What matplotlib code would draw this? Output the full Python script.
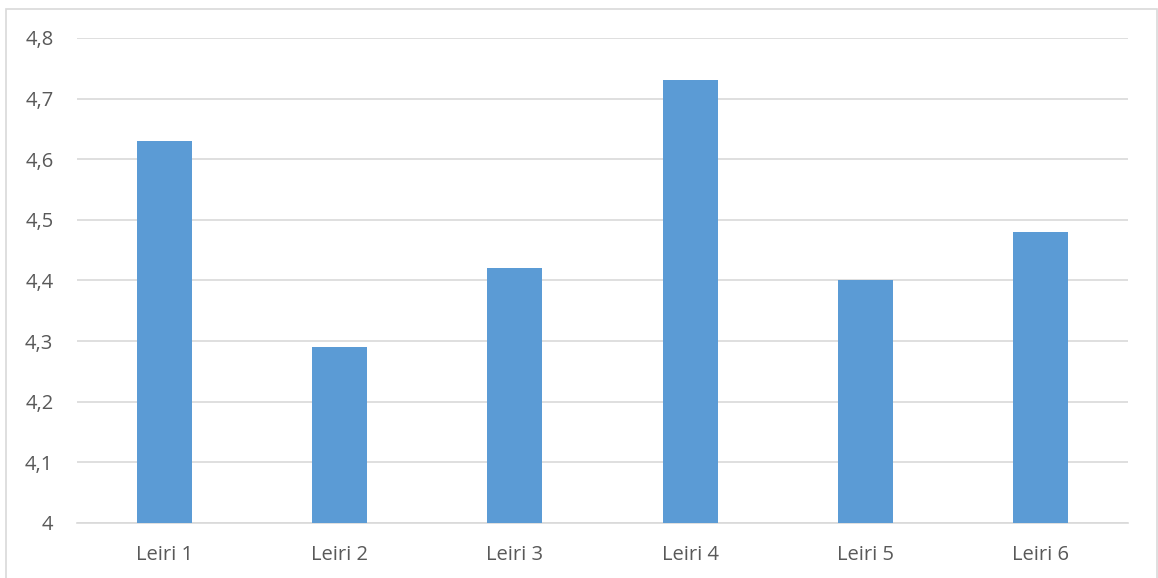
import matplotlib
matplotlib.use("Agg")
import matplotlib.pyplot as plt
from matplotlib.patches import Rectangle
from matplotlib.ticker import FuncFormatter, MultipleLocator

categories = ["Leiri 1", "Leiri 2", "Leiri 3", "Leiri 4", "Leiri 5", "Leiri 6"]
values = [4.63, 4.29, 4.42, 4.73, 4.40, 4.48]

W, H = 1158, 578
fig = plt.figure(figsize=(W / 100, H / 100), dpi=100, facecolor="white")
plt.rcParams["font.family"] = ["Open Sans", "DejaVu Sans"]

# plot area in pixels: x 77..1128, y 38..523
ax = fig.add_axes([77 / W, 1 - 523 / H, (1128 - 77) / W, (523 - 38) / H])

x = range(len(categories))
ax.bar(x, values, width=0.314, color="#5B9BD5", zorder=3)

ax.set_xlim(-0.5, len(categories) - 0.5)
ax.set_ylim(4.0, 4.8)
ax.yaxis.set_major_locator(MultipleLocator(0.1))

def comma_fmt(v, _):
    s = f"{v:.1f}".rstrip("0").rstrip(".")
    return s.replace(".", ",")

ax.yaxis.set_major_formatter(FuncFormatter(comma_fmt))
ax.set_xticks(list(x))
ax.set_xticklabels(categories)

ax.grid(axis="y", color="#D9D9D9", linewidth=1.2, zorder=0)
for side in ("top", "right", "left"):
    ax.spines[side].set_visible(False)
ax.spines["bottom"].set_color("#D9D9D9")
ax.spines["bottom"].set_linewidth(1.2)

ax.tick_params(axis="both", length=0, labelsize=14.5, colors="#595959")
ax.tick_params(axis="y", pad=17)
ax.tick_params(axis="x", pad=16)

# chart border
fig.patches.append(Rectangle((6 / W, -0.05), (1157 - 6) / W, 1.05 - 9 / H,
                             transform=fig.transFigure, fill=False,
                             edgecolor="#D9D9D9", linewidth=1.2))

fig.savefig("out.png", dpi=100, facecolor="white")
